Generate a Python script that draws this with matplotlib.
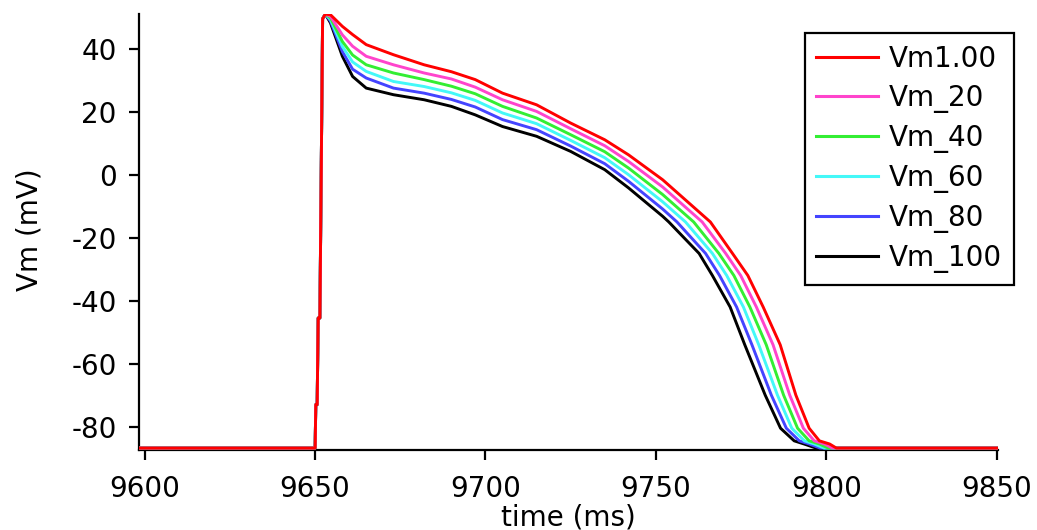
import numpy as np
import matplotlib
matplotlib.use('Agg')
import matplotlib.pyplot as plt

# upstroke, shared by all traces (ms, mV)
t_up = [9598, 9650, 9650.2, 9650.6, 9650.9, 9651.4, 9652.2, 9653.0]
v_up = [-86.8, -86.8, -73, -73, -45.5, -45.5, 49.5, 51.0]

# plateau, read on a common time grid
t_plat = [9654.5, 9658, 9661, 9665, 9673, 9682, 9690, 9697, 9705, 9715, 9725, 9735, 9742, 9752]
v_red = [50.8, 47.1, 44.5, 41.3, 38.1, 34.9, 32.7, 30.2, 25.9, 22.2, 16.4, 11.1, 6.3, -1.6]
v_pink = [50.3, 44.4, 40.8, 37.6, 34.9, 32.3, 30.4, 27.8, 23.8, 20.1, 14.6, 9.2, 4.2, -3.9]
v_green = [49.8, 42.3, 38.0, 34.9, 32.3, 30.2, 28.1, 25.7, 21.7, 18.0, 12.7, 7.3, 2.1, -6.3]
v_cyan = [49.3, 40.7, 35.8, 32.8, 29.6, 28.0, 26.0, 23.6, 19.6, 16.2, 10.9, 5.4, 0.0, -8.6]
v_blue = [48.8, 39.1, 33.5, 30.7, 27.5, 25.9, 23.9, 21.5, 17.5, 14.3, 9.1, 3.5, -2.1, -10.9]
v_black = [48.2, 37.6, 31.2, 27.5, 25.4, 23.8, 21.7, 19.0, 15.3, 12.2, 7.4, 1.6, -4.2, -13.2]

# repolarization: time at which each trace crosses these levels
v_repol = [-15, -25, -32, -42, -54, -70, -80.5, -84.5, -85.5, -86.8]
t_red = [9766.0, 9772.5, 9777.0, 9781.5, 9786.5, 9791.1, 9795.0, 9798.0, 9801.0, 9803.0]
t_pink = [9763.6, 9770.5, 9774.9, 9779.5, 9784.4, 9789.3, 9793.3, 9796.5, 9799.5, 9801.8]
t_green = [9761.1, 9768.5, 9772.9, 9777.6, 9782.4, 9787.5, 9791.6, 9795.0, 9798.0, 9800.6]
t_cyan = [9758.7, 9766.6, 9770.8, 9775.7, 9780.2, 9785.7, 9789.9, 9793.6, 9796.5, 9799.4]
t_blue = [9756.2, 9764.6, 9768.7, 9773.7, 9778.2, 9783.9, 9788.3, 9792.1, 9795.0, 9798.2]
t_black = [9753.8, 9762.7, 9766.6, 9771.8, 9776.1, 9782.1, 9786.6, 9790.6, 9793.5, 9797.0]

t_end = 9851
v_rest = -86.8

labels = ['Vm1.00', 'Vm_20', 'Vm_40', 'Vm_60', 'Vm_80', 'Vm_100']
colors = ['#ff0000', '#ff44cc', '#33ee33', '#44f8f8', '#4444ff', '#000000']
plat = [v_red, v_pink, v_green, v_cyan, v_blue, v_black]
repol = [t_red, t_pink, t_green, t_cyan, t_blue, t_black]

plt.rcParams['font.family'] = ['DejaVu Sans']
plt.rcParams['axes.unicode_minus'] = False
fs = 20

fig = plt.figure(figsize=(10.37, 5.30), dpi=100)
ax = fig.add_axes([0.134, 0.151, 0.828, 0.823])

for i in range(6):
    t = t_up + t_plat + repol[i] + [t_end]
    v = v_up + plat[i] + v_repol + [v_rest]
    ax.plot(t, v, color=colors[i], lw=2.1, label=labels[i], zorder=10 - i)

ax.set_xlim(9598.3, 9850.3)
ax.set_ylim(-87.4, 51.1)
ax.set_xticks(np.arange(9600, 9851, 50))
ax.set_yticks(np.arange(-80, 41, 20))

for s in ['top', 'right']:
    ax.spines[s].set_visible(False)
for s in ['left', 'bottom']:
    ax.spines[s].set_linewidth(1.6)
ax.tick_params(axis='both', direction='out', length=7, width=1.6, labelsize=fs)
ax.tick_params(axis='x', pad=11)
ax.tick_params(axis='y', pad=9)

ax.set_xlabel('time (ms)', fontsize=fs, va='center')
ax.xaxis.set_label_coords(0.5, -0.155)
ax.set_ylabel('Vm (mV)', fontsize=fs, va='center')
ax.yaxis.set_label_coords(-0.127, 0.505)

leg = ax.legend(loc='upper right', bbox_to_anchor=(1014 / 1037, 1 - 33 / 530),
                bbox_transform=fig.transFigure, fontsize=fs, frameon=True,
                fancybox=False, framealpha=1, edgecolor='black',
                handlelength=2.2, handletextpad=0.42, labelspacing=0.4,
                borderpad=0.42, borderaxespad=0)
leg.get_frame().set_linewidth(1.6)
for line in leg.get_lines():
    line.set_linewidth(2.2)

plt.savefig('out.png', dpi=100)
